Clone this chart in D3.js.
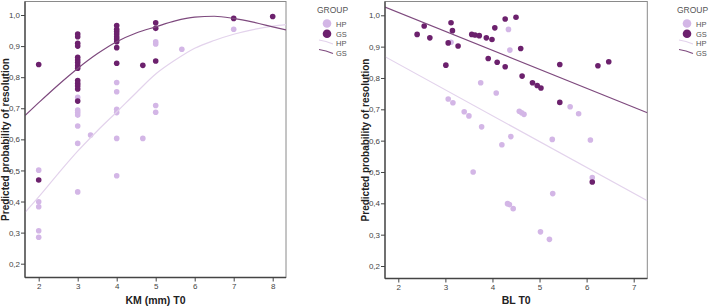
<!DOCTYPE html>
<html>
<head>
<meta charset="utf-8">
<script src="https://cdn.jsdelivr.net/npm/d3@7"></script>
<style>
  body { margin: 0; background: #fff; }
  svg { display: block; font-family: "Liberation Sans", Arial, sans-serif; }
  .tick text { fill: #444; font-size: 8px; }
  .tick line, .domain { stroke: #444; }
</style>
</head>
<body>
<svg id="chart" width="709" height="307"></svg>
<script>
// KM (mm) T0 panel, points [KM, predicted probability]
let kmHP = [
  [2, 0.501], [2, 0.399], [2, 0.383], [2, 0.306], [2, 0.285],
  [3, 0.735], [3, 0.694], [3, 0.686], [3, 0.678], [3, 0.643], [3, 0.587], [3, 0.431],
  [3.33, 0.614],
  [4, 0.783], [4, 0.753], [4, 0.697], [4, 0.686], [4, 0.603], [4, 0.483],
  [4.67, 0.603],
  [5, 0.914], [5, 0.907], [5, 0.709], [5, 0.687],
  [5.67, 0.890], [7, 0.954]
];
let kmGS = [
  [2, 0.841], [2, 0.469],
  [3, 0.939], [3, 0.930], [3, 0.909], [3, 0.900], [3, 0.864], [3, 0.855], [3, 0.847],
  [3, 0.837], [3, 0.829], [3, 0.789], [3, 0.780], [3, 0.772], [3, 0.762], [3, 0.723],
  [4, 0.966], [4, 0.954], [4, 0.947], [4, 0.939], [4, 0.930], [4, 0.923], [4, 0.914],
  [4, 0.895], [4, 0.845],
  [4.67, 0.838],
  [5, 0.975], [5, 0.957], [5, 0.852],
  [7, 0.989], [8, 0.995]
];
// fitted curves
let kmCurveHP = [
  [1.65, 0.365], [2, 0.415], [2.5, 0.49], [3, 0.562], [3.5, 0.627], [4, 0.688], [4.5, 0.75],
  [5, 0.81], [5.5, 0.855], [6, 0.893], [6.5, 0.918], [7, 0.938], [7.5, 0.953], [8, 0.964], [8.34, 0.969]
];
let kmCurveGS = [
  [1.65, 0.677], [2, 0.718], [2.5, 0.775], [3, 0.828], [3.5, 0.875], [4, 0.914], [4.5, 0.942],
  [5, 0.962], [5.5, 0.981], [6, 0.993], [6.5, 0.996], [7, 0.989], [7.5, 0.977], [8, 0.962], [8.34, 0.952]
];

// BL T0 panel, points [BL, predicted probability]
let blHP = [
  [3.12, 0.914], [4.34, 0.955], [4.37, 0.889], [3.75, 0.785], [4.08, 0.752],
  [3.06, 0.733], [3.16, 0.721], [3.40, 0.692], [3.50, 0.679], [3.77, 0.644],
  [4.57, 0.694], [4.62, 0.689], [4.67, 0.684], [4.39, 0.613], [4.20, 0.587],
  [5.27, 0.604], [5.65, 0.708], [5.83, 0.686], [6.08, 0.602], [6.12, 0.482],
  [3.59, 0.500], [4.32, 0.399], [4.36, 0.396], [4.44, 0.383], [5.28, 0.431],
  [5.02, 0.309], [5.21, 0.285]
];
let blGS = [
  [2.40, 0.939], [2.55, 0.966], [2.67, 0.928], [3.01, 0.841], [3.06, 0.912],
  [3.12, 0.976], [3.15, 0.951], [3.27, 0.902], [3.56, 0.939], [3.63, 0.937],
  [3.72, 0.935], [3.87, 0.928], [3.91, 0.862], [3.99, 0.923], [4.05, 0.960],
  [4.10, 0.850], [4.27, 0.988], [4.27, 0.836], [4.50, 0.994], [4.60, 0.894],
  [4.63, 0.806], [4.85, 0.785], [4.95, 0.776], [5.03, 0.768], [5.43, 0.843],
  [5.43, 0.722], [6.24, 0.839], [6.47, 0.852], [6.12, 0.468]
];
let blLineHP = [[1.717, 0.868], [7.29, 0.408]];
let blLineGS = [[1.717, 1.026], [7.29, 0.689]];

let yTicks = [0.2, 0.3, 0.4, 0.5, 0.6, 0.7, 0.8, 0.9, 1.0];
let groups = ["HP", "GS"];

let colHP = "#d3b6e6", colGS = "#6c216d";
let lineHP = "#e3d3ec", lineGS = "#7e4a7e";

let svg = d3.select("#chart");
let fmt = d => d3.format(".1f")(d).replace(".", ",");

function panel(cfg) {
  let x = d3.scaleLinear().domain(cfg.xDom).range(cfg.xRange);
  let y = d3.scaleLinear().domain([0.2, 1.0]).range(cfg.yRange);
  let g = svg.append("g");
  let [L, R, T, B] = cfg.frame;

  let clipId = "clip" + cfg.id;
  g.append("clipPath").attr("id", clipId)
    .append("rect").attr("x", L).attr("y", T).attr("width", R - L).attr("height", B - T);

  // frame
  g.append("rect")
    .attr("x", L).attr("y", T).attr("width", R - L).attr("height", B - T)
    .attr("fill", "none").attr("stroke", "#8a8a8a").attr("stroke-width", 1);

  let plot = g.append("g").attr("clip-path", "url(#" + clipId + ")");

  let line = d3.line().x(d => x(d[0])).y(d => y(d[1])).curve(d3.curveMonotoneX);

  plot.selectAll(".hp").data(cfg.hp).join("circle")
    .attr("cx", d => x(d[0])).attr("cy", d => y(d[1])).attr("r", 2.8).attr("fill", colHP);
  plot.selectAll(".gs").data(cfg.gs).join("circle")
    .attr("cx", d => x(d[0])).attr("cy", d => y(d[1])).attr("r", 2.8).attr("fill", colGS);

  plot.append("path").datum(cfg.curveHP).attr("d", line)
    .attr("fill", "none").attr("stroke", lineHP).attr("stroke-width", 1.2);
  plot.append("path").datum(cfg.curveGS).attr("d", line)
    .attr("fill", "none").attr("stroke", lineGS).attr("stroke-width", 1.2);

  // axes
  let yAxis = g.append("g").attr("transform", "translate(" + L + ",0)")
    .call(d3.axisLeft(y).tickValues(yTicks).tickFormat(fmt).tickSize(4).tickPadding(1).tickSizeOuter(0));
  yAxis.select(".domain").attr("d", "M0," + T + "V" + B);
  let xAxis = g.append("g").attr("transform", "translate(0," + B + ")")
    .call(d3.axisBottom(x).tickValues(cfg.xTicks).tickFormat(d3.format("d")).tickSize(4).tickPadding(2).tickSizeOuter(0));
  xAxis.select(".domain").attr("d", "M" + L + ",0H" + R);
  g.selectAll(".domain").attr("stroke", "#555").attr("stroke-width", 1.3);

  g.append("text")
    .attr("transform", "translate(" + cfg.yTitleX + "," + ((T + B) / 2) + ") rotate(-90)")
    .attr("text-anchor", "middle").attr("font-size", 10).attr("font-weight", "bold").attr("fill", "#222")
    .text("Predicted probability of resolution");
  g.append("text")
    .attr("x", (L + R) / 2 + cfg.xTitleDx).attr("y", 304)
    .attr("text-anchor", "middle").attr("font-size", 10.5).attr("font-weight", "bold").attr("fill", "#222")
    .text(cfg.xTitle);

  // legend
  let lg = g.append("g").attr("transform", "translate(" + cfg.legendX + ",0)");
  lg.append("text").attr("x", 0).attr("y", 13).attr("font-size", 8.5).attr("fill", "#555").text("GROUP");
  lg.selectAll(".dot").data(groups).join("circle")
    .attr("cx", 10).attr("cy", (d, i) => 23.5 + i * 10.3).attr("r", 4.3)
    .attr("fill", d => d === "HP" ? colHP : colGS);
  lg.selectAll(".seg").data(groups).join("path")
    .attr("d", (d, i) => {
      let yy = 42 + i * 9.5;
      return "M2," + (yy - 2) + "Q9," + (yy - 1) + " 16," + (yy + 2);
    })
    .attr("fill", "none").attr("stroke", d => d === "HP" ? lineHP : lineGS).attr("stroke-width", 1.2);
  lg.selectAll(".lab").data(groups.concat(groups)).join("text")
    .attr("x", 19).attr("y", (d, i) => [26.5, 37, 46, 55.5][i])
    .attr("font-size", 7.5).attr("fill", "#555").text(d => d);
}

panel({
  id: "km", hp: kmHP, gs: kmGS, curveHP: kmCurveHP, curveGS: kmCurveGS,
  xDom: [2, 8], xRange: [38.7, 272.7], yRange: [263.7, 15],
  frame: [25, 286, 1.5, 277.5], xTicks: [2, 3, 4, 5, 6, 7, 8],
  yTitleX: 9, xTitle: "KM (mm) T0", xTitleDx: 0, legendX: 317
});
panel({
  id: "bl", hp: blHP, gs: blGS, curveHP: blLineHP, curveGS: blLineGS,
  xDom: [2, 7], xRange: [398.3, 633.7], yRange: [266, 15.3],
  frame: [385, 647.3, 1.5, 278.5], xTicks: [2, 3, 4, 5, 6, 7],
  yTitleX: 368.5, xTitle: "BL T0", xTitleDx: 0, legendX: 677
});
</script>
</body>
</html>
